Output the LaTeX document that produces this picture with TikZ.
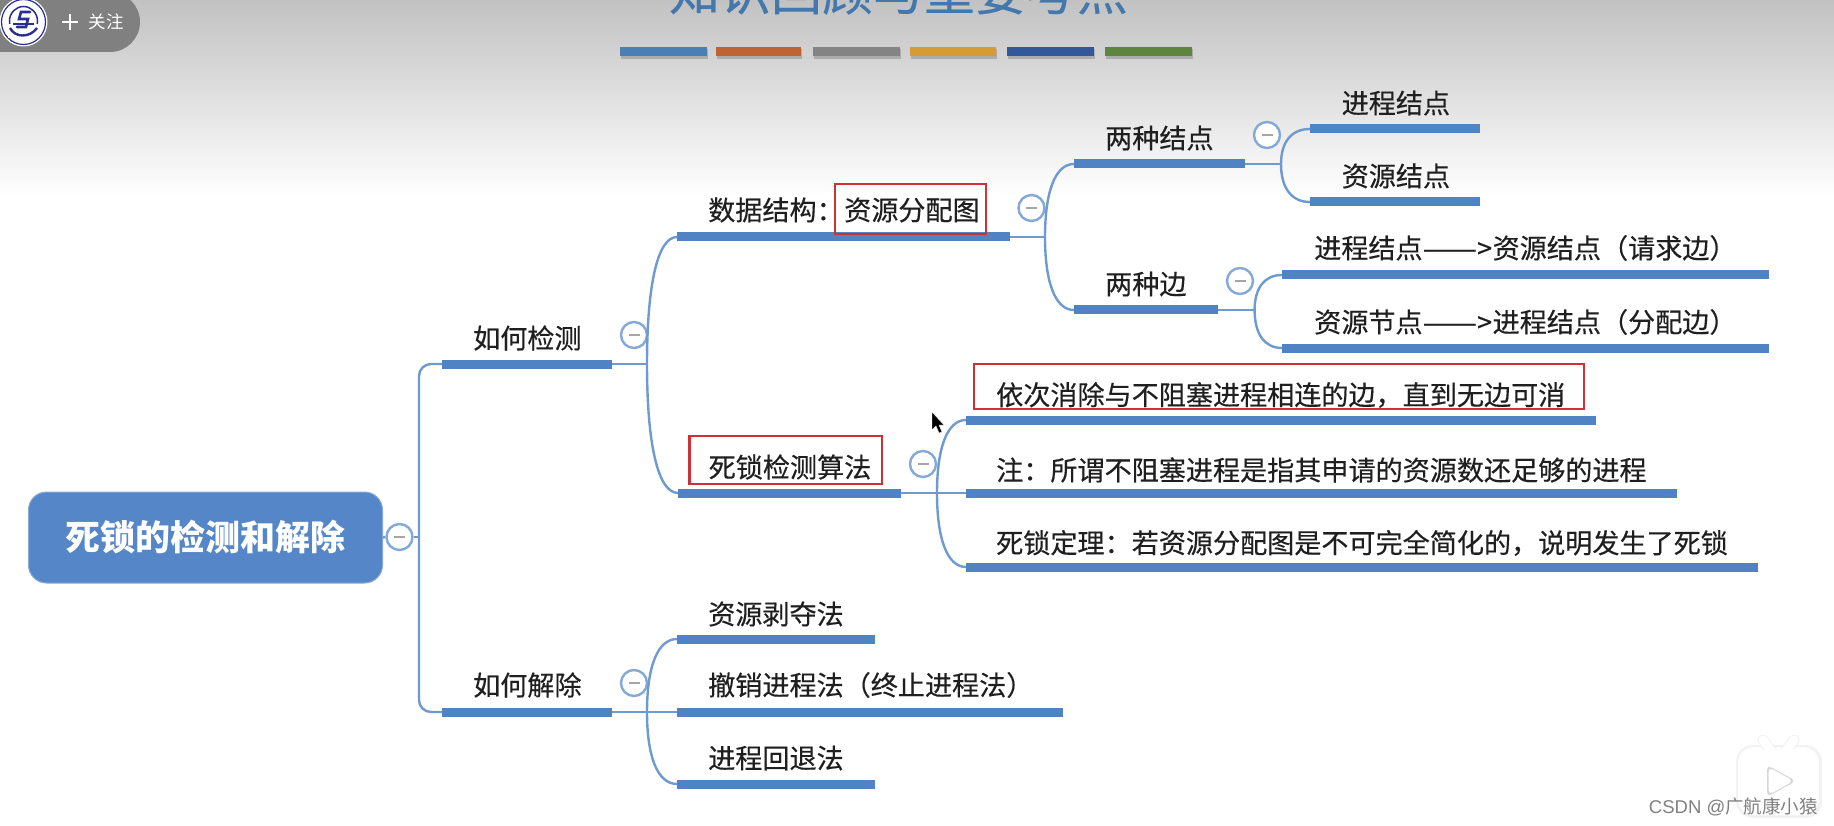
\documentclass[tikz,border=0pt]{standalone}
\usepackage{fontspec}
\usepackage{graphicx}
\usetikzlibrary{calc}
\setmainfont{Noto Sans CJK SC}
\newfontfamily\wmfont{Liberation Sans}
\newfontfamily\lblfont{Noto Sans CJK SC}[FakeBold=0.35]
\definecolor{barblue}{HTML}{5083C4}
\definecolor{linkblue}{HTML}{6F9AD0}
\definecolor{rootblue}{HTML}{5586C8}
\definecolor{redbox}{HTML}{CE3236}
\definecolor{inktext}{HTML}{1F1F1F}
\definecolor{titleblue}{HTML}{4478AC}
\definecolor{logoblue}{HTML}{2A2E90}
\newcommand{\longdash}{\scalebox{1.2}[1]{——}>\kern0.5pt}
\tikzset{
  lbl/.style={anchor=west,inner sep=0pt,text=inktext,font=\lblfont\fontsize{27.1}{30}\selectfont},
  barbox/.style={anchor=west,fill=barblue,draw=none,inner sep=0pt,minimum height=9pt},
  link/.style={draw=linkblue,line width=2.4pt},
  redframe/.style={draw=redbox,line width=2.6pt,inner sep=0pt,fill=none},
  fold/.style={circle,draw=linkblue!85!white,line width=2.4pt,fill=white,inner sep=0pt,minimum size=26pt,
    path picture={\fill[black!35] ([xshift=-5.5pt,yshift=-1.4pt]path picture bounding box.center) rectangle ([xshift=5.5pt,yshift=1.4pt]path picture bounding box.center);}}
}
\newcommand{\limb}[2]{\draw[link] (#1) .. controls ($(#1)!.62!(#1 |- #2.west)$) and ($(#1 |- #2.west)!.35!(#2.west)$) .. (#2.west);}
\begin{document}
\begin{tikzpicture}[x=1pt,y=-1pt]
\useasboundingbox (0,0) rectangle (1834,826);
\fill[white] (0,0) rectangle (1834,826);
\shade[top color=black!24,bottom color=white] (0,0) rectangle (1834,195);

% title and colour bars
\node[inner sep=0pt,text=titleblue,font=\lblfont\fontsize{51}{54}\selectfont] (title) at (898.5,-9) {知识回顾与重要考点};
\foreach \xa/\xb/\hexc/\nm in {620/707/4A7FB5/sa,715.5/801/BF6234/sb,813/900/848484/sc,910/996/D79B36/sd,1006.5/1093.5/32589B/se,1105/1192/5D853E/sf}{
  \definecolor{tmpc}{HTML}{\hexc}
  \fill[black,opacity=.18] (\xa+1,49) rectangle (\xb+1,59);
  \fill[tmpc] (\xa,47) rectangle (\xb,56);
}

% follow pill
\fill[black!50,rounded corners=30pt] (-40,-8) rectangle (140,52);
\node[inner sep=0pt,text=white,font=\fontsize{17.5}{20}\selectfont] (follow) at (106,22) {关注};
\draw[white,line width=1.7pt] (62,22) -- (78,22) (70,14) -- (70,30);
\fill[white] (23.5,22) ellipse[x radius=24,y radius=24.5];
\draw[logoblue,line width=1.2pt] (23.5,22) ellipse[x radius=22,y radius=22.5];
\draw[logoblue,line width=1.5pt] (23.5,21) ellipse[x radius=14,y radius=14.5];
\fill[white] (8,24) rectangle (38,38);
\draw[logoblue,line width=2.6pt,line cap=round] (30,12) -- (21,12) -- (19,19) -- (28,19) -- (26,27) -- (17,27);
\draw[logoblue,line width=2.4pt] (10,28) .. controls (15,38) and (30,38) .. (37,28);
\draw[logoblue,line width=1.6pt] (13,24) -- (34,24);

% root
\node[fill=rootblue,draw=rootblue!70!white,line width=1pt,rounded corners=18pt,minimum width=354pt,minimum height=91pt,inner sep=0pt,
  text=white,font=\fontsize{35}{38}\selectfont\bfseries] (root) at (205.5,537.5) {死锁的检测和解除};
\node[fold] (f0) at (399.5,537) {};
\coordinate (j0) at (419,537);

% level 1
\node[barbox,minimum width=170pt] (detect) at (442,364) {};
\node[barbox,minimum width=170pt] (solve) at (442,712) {};
\node[lbl] (detectT) at (473,338) {如何检测};
\node[lbl] (solveT) at (473,685) {如何解除};
\node[fold] (f1) at (634,335) {};
\node[fold] (f2) at (634,683) {};
\coordinate (j1) at (647,364);
\coordinate (j2) at (647,712);

% detect children
\node[barbox,minimum width=333pt] (ds) at (677,237) {};
\node[barbox,minimum width=223pt] (algo) at (678,493) {};
\node[lbl] (dsT) at (708,210) {数据结构：};
\node[lbl] (dsR) at (844,210) {资源分配图};
\node[redframe,minimum width=151pt,minimum height=50pt] (dsBox) at (910.5,209) {};
\node[lbl] (algoT) at (708.5,467) {死锁检测算法};
\node[redframe,minimum width=192.5pt,minimum height=48pt] (algoBox) at (785.8,460) {};
\node[fold] (f3) at (1031.5,208) {};
\node[fold] (f4) at (923,464) {};
\coordinate (j3) at (1045,237);
\coordinate (j4) at (937,493);

% solve children
\node[barbox,minimum width=198pt] (s1) at (677,639) {};
\node[barbox,minimum width=386pt] (s2) at (677,712) {};
\node[barbox,minimum width=198pt] (s3) at (677,784) {};
\node[lbl] (s1T) at (708,614) {资源剥夺法};
\node[lbl] (s2T) at (708,685) {撤销进程法（终止进程法）};
\node[lbl] (s3T) at (708,758) {进程回退法};

% data-structure children
\node[barbox,minimum width=171pt] (two1) at (1074,164) {};
\node[barbox,minimum width=144pt] (two2) at (1074,310) {};
\node[lbl] (two1T) at (1105,138) {两种结点};
\node[lbl] (two2T) at (1105,284) {两种边};
\node[fold] (f5) at (1267,135) {};
\node[fold] (f6) at (1240,281) {};
\coordinate (j5) at (1281,164);
\coordinate (j6) at (1254.6,310);
\node[barbox,minimum width=170pt] (n1) at (1310,129) {};
\node[barbox,minimum width=170pt] (n2) at (1310,202) {};
\node[lbl] (n1T) at (1341.5,103) {进程结点};
\node[lbl] (n2T) at (1341.5,176) {资源结点};
\node[barbox,minimum width=487pt] (e1) at (1282,275) {};
\node[barbox,minimum width=487pt] (e2) at (1282,348) {};
\node[lbl] (e1T) at (1314,248) {进程结点\longdash 资源结点（请求边）};
\node[lbl] (e2T) at (1314,322) {资源节点\longdash 进程结点（分配边）};

% algorithm children
\node[barbox,minimum width=630pt] (a1) at (966,420) {};
\node[barbox,minimum width=711pt] (a2) at (966,493) {};
\node[barbox,minimum width=792pt] (a3) at (966,567) {};
\node[lbl] (a1T) at (996,395) {依次消除与不阻塞进程相连的边，直到无边可消};
\node[lbl] (a2T) at (996,470) {注：所谓不阻塞进程是指其申请的资源数还足够的进程};
\node[lbl] (a3T) at (996,543) {死锁定理：若资源分配图是不可完全简化的，说明发生了死锁};
\node[redframe,minimum width=610pt,minimum height=45pt] (a1Box) at (1278.8,386.5) {};

% connectors
\draw[link] (root.east) -- (f0.west);
\draw[link] (f0.east) -- (j0);
\draw[link,rounded corners=12pt] (detect.west) -| (j0) |- (solve.west);
\draw[link] (detect.east) -- (j1);
\draw[link] (solve.east) -- (s2.west);
\limb{j1}{ds}
\limb{j1}{algo}
\limb{j2}{s1}
\limb{j2}{s3}
\draw[link] (ds.east) -- (j3);
\limb{j3}{two1}
\limb{j3}{two2}
\draw[link] (algo.east) -- (a2.west);
\limb{j4}{a1}
\limb{j4}{a3}
\draw[link] (two1.east) -- (j5);
\limb{j5}{n1}
\limb{j5}{n2}
\draw[link] (two2.east) -- (j6);
\limb{j6}{e1}
\limb{j6}{e2}

% mouse cursor
\fill[black,draw=white,line width=.4pt] (932,412) -- (932,430) -- (936,426) -- (939,433) -- (942,432) -- (939,425) -- (944,425) -- cycle;

% player badge
\fill[black!5,rounded corners=17pt] (1736,745) rectangle (1822,818);
\fill[white,rounded corners=16pt] (1738,747) rectangle (1819,815);
\draw[black!5,line width=11pt,line cap=round] (1763,740) -- (1772,752) (1794,740) -- (1785,752);
\draw[white,line width=9pt,line cap=round] (1763,740) -- (1772,752) (1794,740) -- (1785,752);
\fill[white,rounded corners=16pt] (1745,750) rectangle (1812,800);
\fill[black!16,rounded corners=5pt] (1767,765) -- (1767,797) -- (1796,781) -- cycle;
\fill[white,rounded corners=5pt] (1768.5,767) -- (1768.5,795) -- (1793.5,781) -- cycle;

% watermark
\node[inner sep=0pt,anchor=east,text=black!50,font=\fontsize{18.5}{20}\selectfont] (mark) at (1818,807) {{\wmfont CSDN @}广航康小猿};
\end{tikzpicture}
\end{document}
